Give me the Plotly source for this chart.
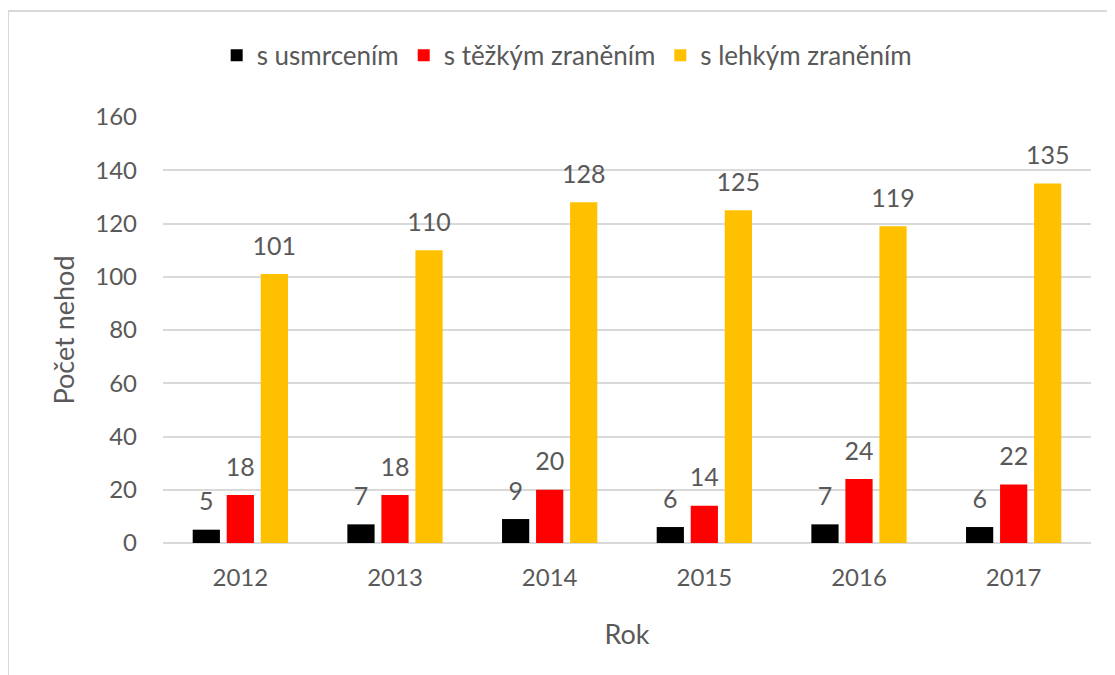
import plotly.graph_objects as go

# roky a počty nehod podle následků
years = ["2012", "2013", "2014", "2015", "2016", "2017"]
killed = [5, 7, 9, 6, 7, 6]
serious = [18, 18, 20, 14, 24, 22]
light = [101, 110, 128, 125, 119, 135]

series = [
    ("s usmrcením", killed, "#000000"),
    ("s těžkým zraněním", serious, "#FF0000"),
    ("s lehkým zraněním", light, "#FFC000"),
]

FONT = "Lato, 'Open Sans', sans-serif"
GREY = "#595959"

fig = go.Figure()
for name, vals, color in series:
    fig.add_trace(go.Bar(
        name=name,
        x=years,
        y=vals,
        marker=dict(color=color, line=dict(width=0)),
        # small blank second line lifts the label off the bar top, like Excel
        texttemplate="<span style='font-size:25px'>%{y}</span><br>\u00a0",
        textposition="outside",
        constraintext="none",
        textfont=dict(size=11, color=GREY, family=FONT),
        cliponaxis=False,
    ))

# page body has an 8px margin, so the margins below are shifted by 8px
fig.update_layout(
    width=1115,
    height=675,
    margin=dict(l=155, r=32, t=109, b=140, autoexpand=False),
    paper_bgcolor="white",
    plot_bgcolor="white",
    font=dict(family=FONT, color=GREY, size=22),
    barmode="group",
    bargap=0.34,
    bargroupgap=0.2,
    showlegend=True,
    legend=dict(
        orientation="h",
        x=0.435, xanchor="center",
        y=1.145, yanchor="middle",
        font=dict(size=26, color=GREY),
        traceorder="normal",
    ),
    xaxis=dict(
        title=dict(text="Rok", font=dict(size=27, color=GREY), standoff=35),
        tickfont=dict(size=24, color=GREY),
        ticklabelstandoff=18,
        automargin=False,
        showgrid=False,
        showline=False,
        ticks="",
    ),
    yaxis=dict(
        title=dict(text="Počet nehod", font=dict(size=27, color=GREY), standoff=12),
        range=[0, 160],
        dtick=20,
        tickfont=dict(size=24, color=GREY),
        ticklabelstandoff=25,
        automargin=False,
        gridcolor="#D9D9D9",
        gridwidth=2,
        zeroline=True,
        zerolinecolor="#D9D9D9",
        zerolinewidth=2,
        showline=False,
        ticks="",
    ),
    shapes=[dict(
        type="rect", xref="paper", yref="paper",
        x0=-0.167, x1=1.05, y0=-0.36, y1=1.249,
        line=dict(color="#D9D9D9", width=2),
        fillcolor="rgba(0,0,0,0)",
        layer="below",
    )],
)

fig.write_html("out.html")
